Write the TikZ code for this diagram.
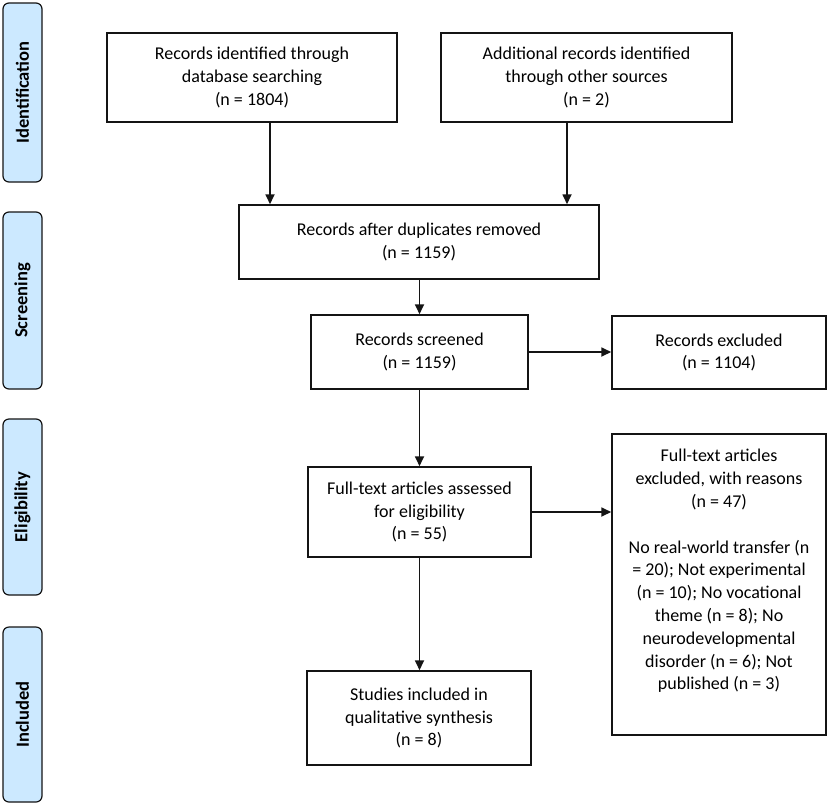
\documentclass[tikz,border=0pt]{standalone}
\usepackage{fontspec}
\setmainfont{Carlito}
\usetikzlibrary{arrows.meta}
\definecolor{tabblue}{RGB}{204,233,255}
\definecolor{lineblk}{RGB}{20,20,20}
\begin{document}
\begin{tikzpicture}[x=1pt,y=-1pt,
  box/.style={draw=lineblk,line width=1.5pt,rectangle,inner sep=0pt,align=center,
    font=\fontsize{18}{22.8}\selectfont},
  tabbox/.style={draw=lineblk,line width=1.2pt,fill=tabblue,rounded corners=6pt,inner sep=0pt,
    minimum width=39pt},
  tabtext/.style={rotate=90,font=\fontsize{18.5}{22}\selectfont\bfseries},
  arr/.style={draw=lineblk,line width=1.7pt,-{Triangle[length=10pt,width=9pt]}}]
\useasboundingbox (0,0) rectangle (829,809);
\fill[white] (0,0) rectangle (829,809);
% phase tabs
\node[tabbox,minimum height=179pt] (tid) at (22.5,92.5) {};
\node[tabtext] (tidt) at (tid.center) {Identification};
\node[tabbox,minimum height=177pt] (tsc) at (22.5,300.5) {};
\node[tabtext] (tsct) at (tsc.center) {Screening};
\node[tabbox,minimum height=176pt] (tel) at (22.5,507) {};
\node[tabtext] (telt) at (tel.center) {Eligibility};
\node[tabbox,minimum height=175pt] (tin) at (22.5,714.5) {};
\node[tabtext] (tint) at (tin.center) {Included};
% boxes
\node[box,minimum width=290pt,minimum height=89pt] (b1) at (252,77.5)
  {Records identified through\\database searching\\(n = 1804)};
\node[box,minimum width=291pt,minimum height=89pt] (b2) at (586.5,77.5)
  {Additional records identified\\through other sources\\(n = 2)};
\node[box,minimum width=360pt,minimum height=74pt] (b3) at (419,242)
  {Records after duplicates removed\\(n = 1159)};
\node[box,minimum width=217pt,minimum height=74pt] (b4) at (419.5,352)
  {Records screened\\(n = 1159)};
\node[box,minimum width=214pt,minimum height=73pt] (e1) at (719,352.5)
  {Records excluded\\(n = 1104)};
\node[box,minimum width=223pt,minimum height=90pt] (b5) at (419.5,512)
  {Full-text articles assessed\\for eligibility\\(n = 55)};
\node[box,minimum width=214pt,minimum height=301pt] (e2) at (719,584.5)
  {Full-text articles\\excluded, with reasons\\(n = 47)\\ \strut\\No real-world transfer (n\\= 20); Not experimental\\(n = 10); No vocational\\theme (n = 8); No\\neurodevelopmental\\disorder (n = 6); Not\\published (n = 3)\\ \strut};
\node[box,minimum width=224pt,minimum height=94pt] (b6) at (419,718)
  {Studies included in\\qualitative synthesis\\(n = 8)};
% connectors
\coordinate (xa) at (270,0);
\coordinate (xb) at (567,0);
\coordinate (xc) at (419.5,0);
\draw[arr] (b1.south -| xa) -- (b3.north -| xa);
\draw[arr] (b2.south -| xb) -- (b3.north -| xb);
\draw[arr] (b3.south -| xc) -- (b4.north -| xc);
\draw[arr] (b4.east) -- (b4.east -| e1.west);
\draw[arr] (b4.south -| xc) -- (b5.north -| xc);
\draw[arr] (b5.east) -- (b5.east -| e2.west);
\draw[arr] (b5.south -| xc) -- (b6.north -| xc);
\end{tikzpicture}
\end{document}
